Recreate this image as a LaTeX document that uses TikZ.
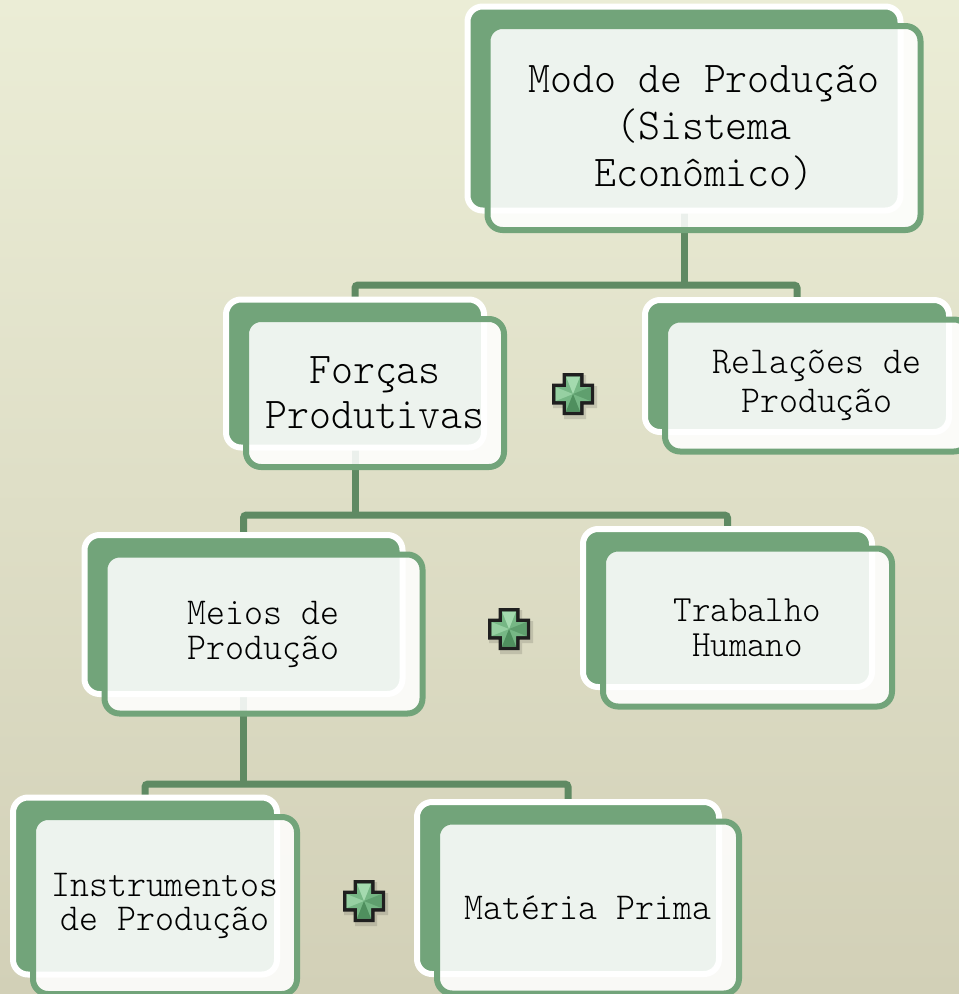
\documentclass[tikz,border=0pt]{standalone}
\usepackage{fontspec}
\newfontfamily\boxfont{Latin Modern Mono Light}[FakeStretch=0.95]
\definecolor{bgtop}{HTML}{EBEDD6}
\definecolor{bgbot}{HTML}{D2D0B7}
\definecolor{boxgreen}{HTML}{72A47A}
\definecolor{linkgreen}{HTML}{5F8A63}
\definecolor{plusmid}{HTML}{76B785}
\definecolor{pluslight}{HTML}{A4DAAF}
\definecolor{plusdark}{HTML}{4F8F5E}
\pgfdeclarelayer{bg}
\pgfdeclarelayer{links}
\pgfsetlayers{bg,links,main}
\newcommand\twobox[8]{%
  \node[backbox, minimum width=#4, minimum height=#5] (#1) at (#2,#3) {};
  \node[frontbox, minimum width=#4, minimum height=#5,
        font=\boxfont\fontsize{#6}{#7}\selectfont] (#1F) at ({#2+20},{#3+19.5}) {#8};
}
\newcommand\crosspath[2]{% #1 half size, #2 half arm
  (-#2,-#1) -- (#2,-#1) -- (#2,-#2) -- (#1,-#2) -- (#1,#2) -- (#2,#2) -- (#2,#1)
  -- (-#2,#1) -- (-#2,#2) -- (-#1,#2) -- (-#1,-#2) -- (-#2,-#2) -- cycle}
\newcommand\drawplus[2]{%
  \begin{scope}[shift={(#1,#2)}]
    \fill[black, opacity=0.12, shift={(2,3)}] \crosspath{22}{11};
    \fill[black!88] \crosspath{21}{10.5};
    \fill[plusmid] \crosspath{17.5}{7};
    \fill[pluslight] (-7,-17.5) -- (7,-17.5) -- (0,0) -- cycle;
    \fill[pluslight!70!plusmid] (-17.5,-7) -- (-17.5,7) -- (0,0) -- cycle;
    \fill[plusdark!60!plusmid] (17.5,-7) -- (17.5,7) -- (0,0) -- cycle;
    \fill[plusdark] (-7,17.5) -- (7,17.5) -- (0,0) -- cycle;
  \end{scope}}
\begin{document}
\begin{tikzpicture}[x=1pt,y=-1pt,
  backbox/.style={rectangle, rounded corners=15pt, draw=white, line width=6pt,
    fill=boxgreen, inner sep=0pt, outer sep=0pt},
  frontbox/.style={rectangle, rounded corners=15pt, draw=boxgreen, line width=6pt,
    fill=white, fill opacity=0.88, draw opacity=1, text opacity=1,
    inner sep=0pt, outer sep=0pt, align=center, text=black},
  link/.style={draw=linkgreen, line width=7pt, rounded corners=3pt}]
\begin{pgfonlayer}{bg}
  \shade[top color=bgtop, bottom color=bgbot] (0,0) rectangle (959,994);
\end{pgfonlayer}
\useasboundingbox (0,0) rectangle (959,994);

\twobox{modo}{684}{108.5}{433}{204}{44}{47}{Modo de Produção\\(Sistema\\Econômico)}
\twobox{forcas}{355}{373.5}{258}{148}{44}{45}{Forças\\Produtivas}
\twobox{relacoes}{797}{366}{304}{132}{38}{39}{Relações de\\Produção}
\twobox{meios}{243.5}{614.5}{318}{159}{38}{35}{Meios de\\Produção}
\twobox{trabalho}{727.5}{608}{289}{158}{37}{35}{Trabalho\\Humano}
\twobox{instr}{145}{886}{264}{177}{38}{34}{Instrumentos\\de Produção}
\twobox{materia}{568}{888}{302}{172}{38}{38}{Matéria Prima}

\coordinate (j1) at (684,285);
\coordinate (j2) at (355,515);
\coordinate (j3) at (243.5,784);
\begin{pgfonlayer}{links}
  \draw[link] (modo.south) -- (j1);
  \draw[link] (forcas.north) |- (j1) -| (relacoes.north);
  \draw[link] (forcas.south) -- (j2);
  \draw[link] (meios.north) |- (j2) -| (trabalho.north);
  \draw[link] (meios.south) -- (j3);
  \draw[link] (instr.north) |- (j3) -| (materia.north);
\end{pgfonlayer}

\drawplus{573}{394}
\drawplus{509}{629}
\drawplus{364}{901}
\end{tikzpicture}
\end{document}
